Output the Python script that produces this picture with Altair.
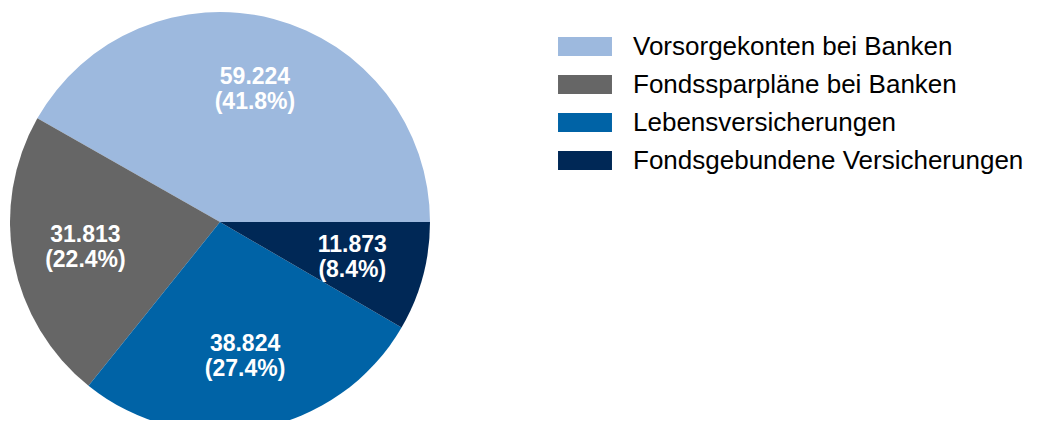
import math
import altair as alt
import pandas as pd

categories = [
    "Vorsorgekonten bei Banken",
    "Fondssparpläne bei Banken",
    "Lebensversicherungen",
    "Fondsgebundene Versicherungen",
]
values = [59224, 31813, 38824, 11873]
value_labels = ["59.224", "31.813", "38.824", "11.873"]
pct_labels = ["(41.8%)", "(22.4%)", "(27.4%)", "(8.4%)"]
draw_order = [3, 2, 1, 0]
colors = ["#9DB9DE", "#666666", "#0063A6", "#002856"]

df = pd.DataFrame({
    "cat": categories,
    "value": values,
    "vlab": value_labels,
    "plab": pct_labels,
    "ord": draw_order,
})
df["label"] = df["vlab"] + "\n" + df["plab"]

theta = alt.Theta(
    "value:Q", stack=True,
    scale=alt.Scale(range=[math.pi / 2, math.pi / 2 + 2 * math.pi]),
)
color = alt.Color(
    "cat:N",
    scale=alt.Scale(domain=categories, range=colors),
    legend=alt.Legend(
        title=None,
        orient="none",
        legendX=558,
        legendY=19.5,
        symbolType="M-1.42,-0.5H1.42V0.5H-1.42Z",
        symbolSize=1444,
        symbolStrokeWidth=0,
        symbolOpacity=1,
        labelFontSize=26,
        labelFont="Liberation Sans",
        labelColor="black",
        labelOffset=29,
        labelLimit=0,
        rowPadding=6,
        padding=0,
    ),
)
order = alt.Order("ord:Q", sort="ascending")

base = alt.Chart(df).encode(theta=theta, order=order, x=alt.value(212), y=alt.value(214))

pie = base.mark_arc(outerRadius=210).encode(color=color)
text = base.mark_text(
    radius=137,
    fontSize=23,
    fontWeight="bold",
    color="white",
    font="Liberation Sans",
    lineBreak="\n",
    lineHeight=25,
    align="center",
    baseline="middle",
    dy=-12.5,
).encode(text="label:N")

chart = (
    alt.layer(pie, text)
    .properties(
        width=1021,
        height=412,
        padding=0,
        autosize=alt.AutoSizeParams(type="none"),
        background="white",
    )
    .configure_view(stroke=None)
)

chart.save("out.html", embed_options={"renderer": "svg", "actions": False})
